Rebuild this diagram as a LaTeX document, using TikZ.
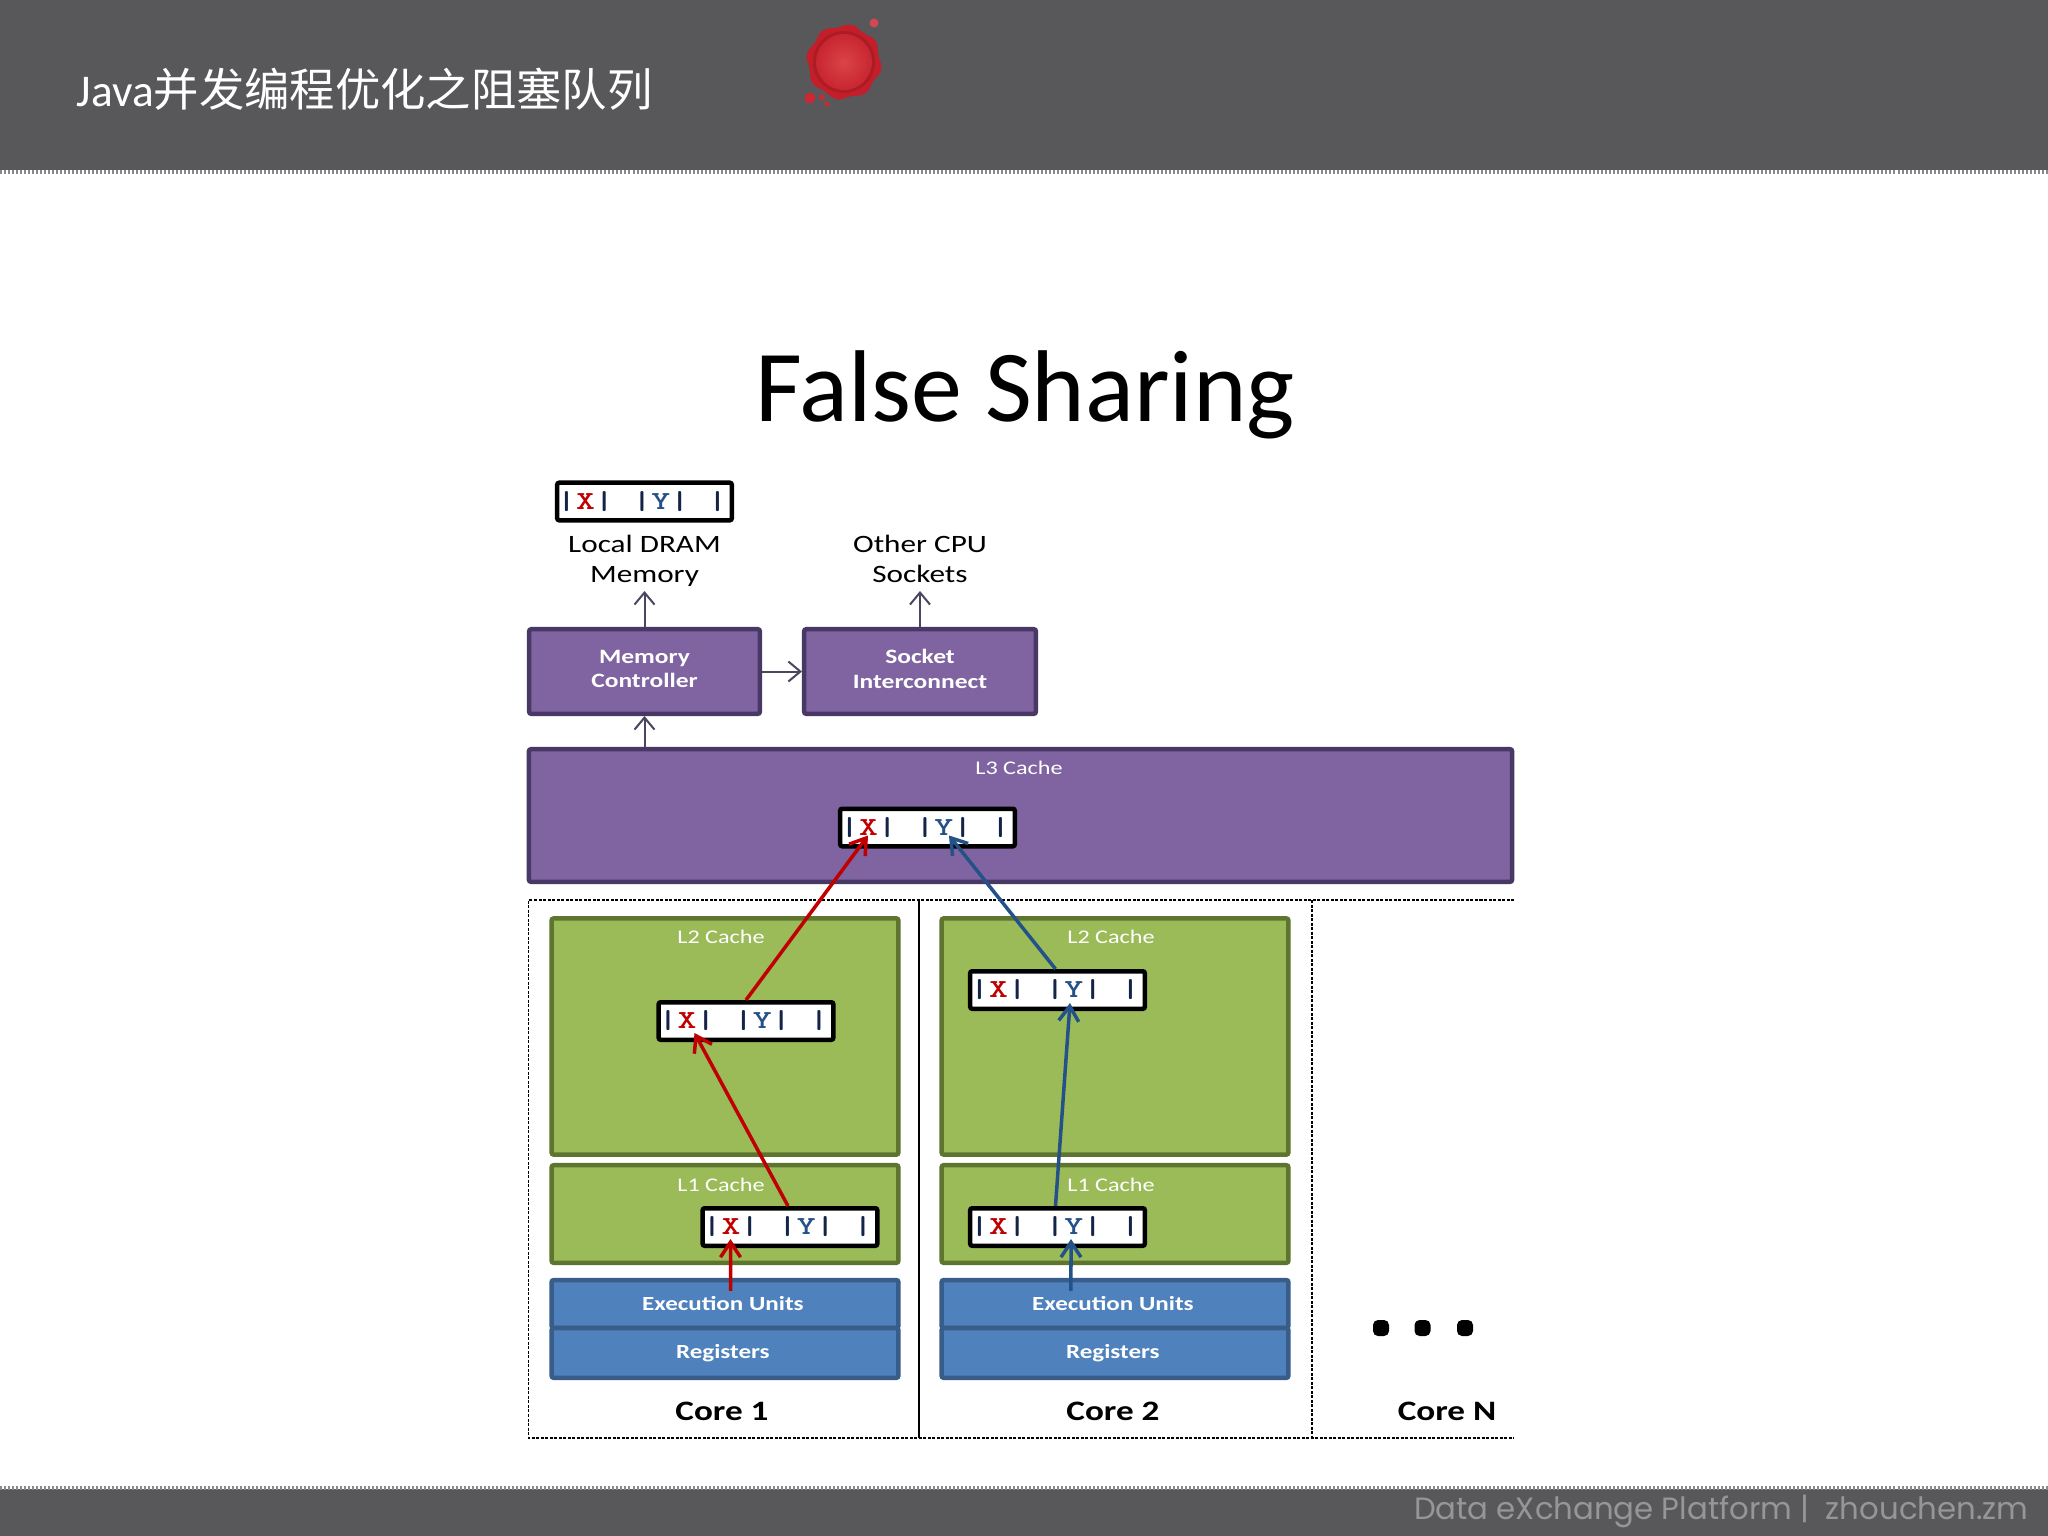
\documentclass[tikz,border=0pt]{standalone}
\usepackage{fontspec}
\usepackage{tikz}
\usetikzlibrary{arrows.meta, positioning, calc, shadings}
\setmainfont{Carlito}
\newfontfamily\wideFont[FakeStretch=1.25]{Carlito}
\newfontfamily\cellFont[FakeStretch=1.38,Extension=.otf]{lmmonolt10-bold}
\newfontfamily\cjkfont{Noto Sans CJK SC}
\newfontfamily\footfont{Poppins}
\definecolor{barGray}{RGB}{88, 88, 90}
\definecolor{footGray}{RGB}{150, 150, 152}
\definecolor{purpleFill}{RGB}{128, 100, 162}
\definecolor{purpleEdge}{RGB}{72, 56, 102}
\definecolor{greenFill}{RGB}{155, 187, 89}
\definecolor{greenEdge}{RGB}{94, 117, 48}
\definecolor{blueFill}{RGB}{79, 129, 189}
\definecolor{blueEdge}{RGB}{56, 93, 138}
\definecolor{lineRed}{RGB}{192, 0, 0}
\definecolor{lineBlue}{RGB}{36, 82, 136}
\definecolor{pipeNavy}{RGB}{20, 36, 70}
\definecolor{thinArrow}{RGB}{74, 70, 96}
\definecolor{sealOuter}{RGB}{196, 30, 42}
\definecolor{sealRing}{RGB}{172, 28, 36}
\definecolor{sealInner}{RGB}{218, 68, 72}
\definecolor{sealDrop}{RGB}{204, 40, 52}
\newcommand{\linetext}{{\color{pipeNavy}|\textcolor{lineRed}{X}|\ |\textcolor{lineBlue}{Y}|\ |}\hspace*{1.4pt}}
\newcommand{\liftbox}{\rule[-1.5pt]{0pt}{1.5pt}}
\tikzset{
  cacheBox/.style={draw, line width=0.045cm, rounded corners=0.02cm, text=white, inner sep=0pt},
  purpleBox/.style={cacheBox, fill=purpleFill, draw=purpleEdge, font=\wideFont\fontsize{5.8}{7}\selectfont\bfseries, align=center},
  greenBox/.style={cacheBox, fill=greenFill, draw=greenEdge, minimum width=3.465cm},
  blueBox/.style={cacheBox, fill=blueFill, draw=blueEdge, minimum width=3.465cm, font=\wideFont\fontsize{5.7}{7}\selectfont\bfseries},
  cacheLabel/.style={text=white, inner sep=0pt, font=\wideFont\fontsize{5.5}{7}\selectfont},
  lineBox/.style={draw=black, fill=white, line width=0.045cm, rounded corners=0.02cm, minimum width=1.745cm, minimum height=0.375cm, inner sep=0pt, font=\cellFont\fontsize{7.4}{8}\selectfont},
  sideLabel/.style={anchor=south, align=center, inner sep=0pt, outer sep=0pt, font=\wideFont\fontsize{7.1}{8.5}\selectfont},
  coreLabel/.style={font=\wideFont\fontsize{8}{9}\selectfont\bfseries},
  coreFrame/.style={black, line width=0.015cm, dash pattern=on 0.03cm off 0.015cm},
  thinLink/.style={-{Straight Barb[length=0.12cm,width=0.2cm]}, thinArrow, line width=0.02cm},
  redLink/.style={-{Straight Barb[length=0.15cm,width=0.2cm]}, lineRed, line width=0.035cm},
  blueLink/.style={-{Straight Barb[length=0.15cm,width=0.2cm]}, lineBlue, line width=0.035cm},
  dotMark/.style={fill=black, rounded corners=0.05cm, minimum size=0.16cm, inner sep=0pt},
  stripeLine/.style={barGray!70, line width=0.04cm, dash pattern=on 0.02cm off 0.02cm}
}
\begin{document}
\begin{tikzpicture}[x=0.01cm, y=-0.01cm]
  \useasboundingbox (0,0) rectangle (2048,1536);
  \fill[white] (0,0) rectangle (2048,1536);

  % Top and bottom bars
  \fill[barGray] (0,0) rectangle (2048,170);
  \draw[stripeLine] (0,171.5) -- (2048,171.5);
  \fill[barGray] (0,1489) rectangle (2048,1536);
  \draw[stripeLine] (0,1487.5) -- (2048,1487.5);
  \node[anchor=west, inner sep=0pt, text=white] (headText) at (76,89) {\fontsize{12.9}{14}\selectfont Java\cjkfont 并发编程优化之阻塞队列};
  \node[anchor=east, inner sep=0pt, text=footGray] (footText) at (2029,1511) {\footfont\fontsize{8.75}{10}\selectfont Data eXchange Platform |\ \ zhouchen.zm};

  % Wax seal
  \fill[sealOuter] plot[domain=0:360, samples=72, smooth cycle] ({844+(36.5+1.5*sin(8*\x))*cos(\x)}, {62+(36.5+1.5*sin(8*\x))*sin(\x)});
  \fill[sealRing] (844,62) circle (31);
  \shade[inner color=sealInner, outer color=sealOuter!80!sealInner] (844,62) circle (28);
  \fill[sealDrop!85!white] (874,23) circle (4.5);
  \fill[sealDrop] (810,98) circle (5.5) (822,97) circle (3) (827,104) circle (2.5);

  \node[anchor=center, inner sep=0pt, font=\fontsize{29}{34}\selectfont] (slideTitle) at (1025,395) {False Sharing};

  % Memory line and outside blocks
  \node[lineBox] (lineDram) at (644.5,501.5) {\linetext};
  \node[sideLabel] (dramLabel) at (644.5,591) {Local DRAM\\Memory\strut};
  \node[sideLabel] (cpuLabel) at (920,591) {Other CPU\\Sockets\strut};
  \node[purpleBox, minimum width=2.305cm, minimum height=0.845cm] (memBox) at (644.5,671.5) {Memory\\Controller\liftbox};
  \node[purpleBox, minimum width=2.315cm, minimum height=0.845cm] (socketBox) at (920,671.5) {Socket\\Interconnect\liftbox};

  % L3
  \node[cacheBox, fill=purpleFill, draw=purpleEdge, minimum width=9.825cm, minimum height=1.325cm] (lThree) at (1020.5,815.5) {};
  \node[cacheLabel] (lThreeLabel) at (1019,768) {L3 Cache};
  \node[lineBox] (lineThree) at (927.5,827.5) {\linetext};

  % Core frames
  \draw[coreFrame] (1514,900) -- (528.7,900) -- (528.7,1438) -- (1514,1438);
  \draw[black, line width=0.02cm] (918.5,900) -- (918.5,1438);
  \draw[coreFrame] (1312,900) -- (1312,1438);

  % Core 1
  \node[greenBox, minimum height=2.36cm] (lTwoA) at (725,1036.5) {};
  \node[greenBox, minimum height=0.975cm] (lOneA) at (725,1214) {};
  \node[blueBox, minimum height=0.4775cm] (execA) at (725,1304) {Execution Units\hspace*{1.2pt}};
  \node[blueBox, minimum height=0.4975cm] (regA) at (725,1352.9) {Registers\hspace*{1.2pt}};
  \node[cacheLabel] (lTwoLabelA) at (721,937) {L2 Cache};
  \node[cacheLabel] (lOneLabelA) at (721,1185) {L1 Cache};
  \node[lineBox] (lineTwoA) at (746,1021) {\linetext};
  \node[lineBox] (lineOneA) at (790,1227) {\linetext};
  \node[coreLabel] (coreA) at (722,1411) {Core 1};

  % Core 2
  \node[greenBox, minimum height=2.36cm] (lTwoB) at (1115,1036.5) {};
  \node[greenBox, minimum height=0.975cm] (lOneB) at (1115,1214) {};
  \node[blueBox, minimum height=0.4775cm] (execB) at (1115,1304) {Execution Units\hspace*{1.2pt}};
  \node[blueBox, minimum height=0.4975cm] (regB) at (1115,1352.9) {Registers\hspace*{1.2pt}};
  \node[cacheLabel] (lTwoLabelB) at (1111,937) {L2 Cache};
  \node[cacheLabel] (lOneLabelB) at (1111,1185) {L1 Cache};
  \node[lineBox] (lineTwoB) at (1057.5,990) {\linetext};
  \node[lineBox] (lineOneB) at (1057.5,1227) {\linetext};
  \node[coreLabel] (coreB) at (1113,1411) {Core 2};

  % Core N
  \foreach \dotx/\dotname in {1381/dotA, 1422.5/dotB, 1465/dotC}
    \node[dotMark] (\dotname) at (\dotx,1328) {};
  \node[coreLabel] (coreN) at (1447,1411) {Core N};

  % Thin arrows
  \draw[thinLink] (memBox.north) -- (dramLabel.south);
  \draw[thinLink] (socketBox.north) -- (cpuLabel.south);
  \draw[thinLink] (memBox.east) -- (socketBox.west);
  \draw[thinLink] (memBox.south |- lThree.north) -- (memBox.south);

  % X path
  \draw[redLink] ([xshift=0.055cm,yshift=-0.13cm]execA.north) -- ([shift={(-59.5,12)}]lineOneA.center);
  \draw[redLink] ([xshift=-0.02cm]lineOneA.north) -- ([shift={(-51.5,12)}]lineTwoA.center);
  \draw[redLink] (lineTwoA.north) -- ([shift={(-59.5,8)}]lineThree.center);

  % Y path
  \draw[blueLink] ([xshift=-0.44cm,yshift=-0.13cm]execB.north) -- ([shift={(13.5,12)}]lineOneB.center);
  \draw[blueLink] ([xshift=-0.02cm]lineOneB.north) -- ([shift={(12.5,13)}]lineTwoB.center);
  \draw[blueLink] ([xshift=-0.02cm]lineTwoB.north) -- ([shift={(21.5,8)}]lineThree.center);
\end{tikzpicture}
\end{document}
